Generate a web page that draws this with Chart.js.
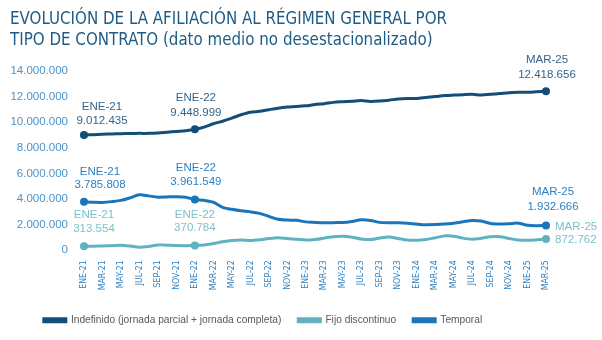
<!DOCTYPE html>
<html><head><meta charset="utf-8">
<script src="https://cdn.jsdelivr.net/npm/chart.js@4.4.0/dist/chart.umd.min.js"></script>
<style>
html,body{margin:0;padding:0;background:#fff;width:602px;height:340px;overflow:hidden}
#wrap{position:relative;width:602px;height:340px}
#title{position:absolute;left:10px;top:8px;font-family:"DejaVu Sans Condensed","Liberation Sans",sans-serif;font-size:17.5px;line-height:21px;color:#1e5c85;white-space:nowrap;transform:scaleX(0.958);transform-origin:0 0}
canvas{position:absolute;left:0;top:0}
</style></head><body>
<div id="wrap"><canvas id="c" width="602" height="340"></canvas>
<div id="title">EVOLUCIÓN DE LA AFILIACIÓN AL RÉGIMEN GENERAL POR<br>TIPO DE CONTRATO (dato medio no desestacionalizado)</div></div>
<script>
// ---- DATA ----
const months = [
 'ENE-21','FEB-21','MAR-21','ABR-21','MAY-21','JUN-21','JUL-21','AGO-21','SEP-21','OCT-21','NOV-21','DIC-21',
 'ENE-22','FEB-22','MAR-22','ABR-22','MAY-22','JUN-22','JUL-22','AGO-22','SEP-22','OCT-22','NOV-22','DIC-22',
 'ENE-23','FEB-23','MAR-23','ABR-23','MAY-23','JUN-23','JUL-23','AGO-23','SEP-23','OCT-23','NOV-23','DIC-23',
 'ENE-24','FEB-24','MAR-24','ABR-24','MAY-24','JUN-24','JUL-24','AGO-24','SEP-24','OCT-24','NOV-24','DIC-24',
 'ENE-25','FEB-25','MAR-25'
];
const tickLabels = ['ENE-21','MAR-21','MAY-21','JUL-21','SEP-21','NOV-21','ENE-22','MAR-22','MAY-22','JUL-22','SEP-22','NOV-22',
 'ENE-23','MAR-23','MAY-23','JUL-23','SEP-23','NOV-23','ENE-24','MAR-24','MAY-24','JUL-24','SEP-24','NOV-24','ENE-25','MAR-25'];
const indefinido = [
 9012435, 9030000, 9060000, 9090000, 9110000, 9120000, 9130000, 9130000, 9160000, 9220000, 9280000, 9340000,
 9448999, 9620000, 9880000, 10080000, 10320000, 10580000, 10780000, 10850000, 10980000, 11100000, 11180000, 11220000,
 11280000, 11380000, 11450000, 11550000, 11600000, 11640000, 11690000, 11620000, 11650000, 11720000, 11820000, 11860000,
 11860000, 11930000, 12000000, 12080000, 12120000, 12150000, 12180000, 12120000, 12180000, 12240000, 12310000, 12340000,
 12340000, 12380000, 12418656
];
const fijoDiscontinuo = [
 313554, 320000, 340000, 360000, 390000, 330000, 240000, 300000, 420000, 400000, 370000, 360000,
 370784, 420000, 530000, 660000, 760000, 800000, 760000, 820000, 920000, 980000, 920000, 860000,
 800000, 850000, 950000, 1060000, 1100000, 1020000, 880000, 840000, 960000, 1040000, 920000, 800000,
 780000, 840000, 980000, 1120000, 1100000, 950000, 870000, 940000, 1060000, 1060000, 920000, 800000,
 780000, 820000, 872762
];
const temporal = [
 3785808, 3750000, 3740000, 3800000, 3900000, 4100000, 4330000, 4250000, 4150000, 4170000, 4180000, 4150000,
 3961549, 3900000, 3750000, 3350000, 3200000, 3080000, 3000000, 2880000, 2650000, 2420000, 2360000, 2340000,
 2220000, 2180000, 2150000, 2160000, 2170000, 2250000, 2380000, 2330000, 2180000, 2150000, 2150000, 2120000,
 2050000, 2000000, 2010000, 2050000, 2120000, 2220000, 2330000, 2280000, 2100000, 2060000, 2080000, 2120000,
 1950000, 1920000, 1932666
];
const seriesNames = ['Indefinido (jornada parcial + jornada completa)', 'Fijo discontinuo', 'Temporal'];
const yTicks = [0, 2000000, 4000000, 6000000, 8000000, 10000000, 12000000, 14000000];
const markedIdx = [0, 12, 50];

// ---- STYLE ----
const fmt = n => Math.round(n).toString().replace(/\B(?=(\d{3})+(?!\d))/g, '.');
const lineColors = ['#124e78', '#5fb3c0', '#1b75bb'];
const labelColors = ['#34648b', '#7cc1ca', '#2d80c2'];
const callouts = [
 {ds:0, i:0,  dx:18, dy:[-28,-14], align:'center'},
 {ds:0, i:12, dx:1,  dy:[-31,-16], align:'center'},
 {ds:0, i:50, dx:1,  dy:[-31,-16], align:'center'},
 {ds:2, i:0,  dx:16, dy:[-30,-17], align:'center'},
 {ds:2, i:12, dx:1,  dy:[-32,-18], align:'center'},
 {ds:2, i:50, dx:7,  dy:[-34,-19], align:'center'},
 {ds:1, i:0,  dx:10, dy:[-31,-17], align:'center'},
 {ds:1, i:12, dx:0,  dy:[-31,-18], align:'center'},
 {ds:1, i:50, dx:9,  dy:[-12,1],   align:'left'}
];
const calloutPlugin = {
  id:'callouts',
  afterDatasetsDraw(chart){
    const ctx = chart.ctx;
    ctx.save();
    ctx.font = '11.5px "Liberation Sans", Arial, sans-serif';
    ctx.textBaseline = 'middle';
    callouts.forEach(c => {
      const el = chart.getDatasetMeta(c.ds).data[c.i];
      const v = chart.data.datasets[c.ds].data[c.i];
      ctx.fillStyle = labelColors[c.ds];
      ctx.textAlign = c.align;
      ctx.fillText(chart.data.labels[c.i], el.x + c.dx, el.y + c.dy[0]);
      ctx.fillText(fmt(v), el.x + c.dx, el.y + c.dy[1]);
    });
    ctx.restore();
  }
};
const legendShift = { id:'legendShift', afterLayout(chart){ const l = chart.legend; if (l) { l.left -= 10; l.right -= 10; } } };

const mkDs = (k, data) => ({
  label: seriesNames[k], data,
  borderColor: lineColors[k], backgroundColor: lineColors[k],
  borderWidth: 3, tension: 0.3,
  pointRadius: ctx => markedIdx.includes(ctx.dataIndex) ? 4 : 0,
  pointHoverRadius: 0,
  pointBackgroundColor: lineColors[k], pointBorderWidth: 0
});

new Chart(document.getElementById('c'), {
  type: 'line',
  data: { labels: months, datasets: [mkDs(0, indefinido), mkDs(1, fijoDiscontinuo), mkDs(2, temporal)] },
  plugins: [calloutPlugin, legendShift],
  options: {
    responsive: false, animation: false, devicePixelRatio: 1,
    layout: { padding: { top: 71, right: 56, bottom: 4.75, left: 0 } },
    scales: {
      x: {
        offset: false,
        grid: { display: false, drawTicks: false }, border: { display: false },
        ticks: {
          autoSkip: false, maxRotation: 90, minRotation: 90, padding: 10,
          color: '#2f80c1',
          font: { family: '"DejaVu Sans Condensed", "Liberation Sans", sans-serif', size: 8.7 },
          callback: (v, i) => tickLabels.includes(months[i]) ? months[i] : ''
        },
        afterFit: s => { s.height = 47.75; }
      },
      y: {
        min: 0, max: 14000000,
        grid: { display: false, drawTicks: false }, border: { display: false },
        afterBuildTicks: s => { s.ticks = yTicks.map(v => ({ value: v })); },
        ticks: { padding: 16, color: '#4a93c9', font: { family: '"Liberation Sans", sans-serif', size: 11.5 }, callback: v => fmt(v) },
        afterFit: s => { s.width = 84; }
      }
    },
    plugins: {
      tooltip: { enabled: false },
      legend: {
        position: 'bottom',
        labels: { boxWidth: 22, boxHeight: 3, padding: 17, color: '#595959',
          font: { family: '"Liberation Sans", sans-serif', size: 10.2 } }
      }
    }
  }
});
</script>
</body></html>
